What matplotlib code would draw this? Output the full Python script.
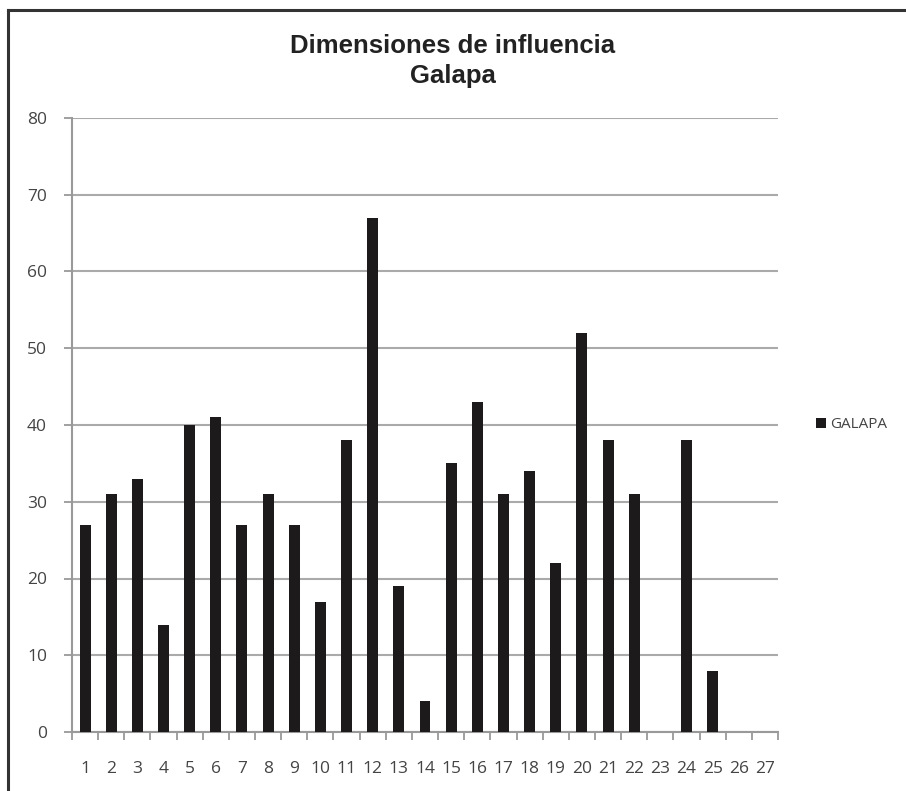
import matplotlib.pyplot as plt
from matplotlib.lines import Line2D

categorias = list(range(1, 28))
galapa = [27, 31, 33, 14, 40, 41, 27, 31, 27, 17, 38, 67, 19, 4, 35, 43,
          31, 34, 22, 52, 38, 31, 0, 38, 8, 0, 0]
y_ticks = [0, 10, 20, 30, 40, 50, 60, 70, 80]

fig = plt.figure(figsize=(9.06, 7.91), dpi=100)
ax = fig.add_axes([72 / 906, 1 - 732 / 791, 706 / 906, 614 / 791])

# marco de la imagen (solo borde superior e izquierdo visibles)
x0, y0 = 8 / 906, 1 - 10 / 791
fig.lines.append(Line2D([x0, 1.0], [y0, y0], transform=fig.transFigure,
                        color='#333333', linewidth=2.2))
fig.lines.append(Line2D([x0, x0], [0.0, y0], transform=fig.transFigure,
                        color='#333333', linewidth=2.2))

ax.bar(categorias, galapa, width=0.42, color='#1c1a1b', label='GALAPA', zorder=3)

ax.set_xlim(0.5, 27.5)
ax.set_ylim(0, 80)
ax.set_yticks(y_ticks)
ax.set_xticks(categorias)
ax.set_xticks([c + 0.5 for c in range(0, 28)], minor=True)
ax.tick_params(axis='x', which='major', length=0, pad=21, labelsize=12.5, labelcolor='#444444')
ax.tick_params(axis='x', which='minor', length=6, color='#999999', width=1.3, direction='out')
ax.tick_params(axis='y', length=6, color='#999999', width=1.3, pad=12, labelsize=12.5, labelcolor='#444444')
for lab in ax.get_xticklabels() + ax.get_yticklabels():
    lab.set_family(['Open Sans', 'DejaVu Sans'])

ax.grid(axis='y', color='#aaaaaa', linewidth=1.5, zorder=0)
for s in ['top', 'right']:
    ax.spines[s].set_visible(False)
ax.spines['left'].set_color('#999999')
ax.spines['left'].set_linewidth(1.5)
ax.spines['bottom'].set_color('#999999')
ax.spines['bottom'].set_linewidth(1.5)

fig.text(0.5, 1 - 61 / 791, 'Dimensiones de influencia\nGalapa', ha='center', va='center',
         fontsize=18.5, fontweight='bold', family=['Liberation Sans', 'DejaVu Sans'],
         linespacing=1.35, color='#222222')

leg = ax.legend(loc='center left', bbox_to_anchor=(1.035, 0.5), frameon=False,
                handlelength=0.6, handleheight=0.6, handletextpad=0.3,
                prop={'family': 'Open Sans', 'size': 11})
for t in leg.get_texts():
    t.set_color('#444444')

fig.savefig('out.png', dpi=100)
